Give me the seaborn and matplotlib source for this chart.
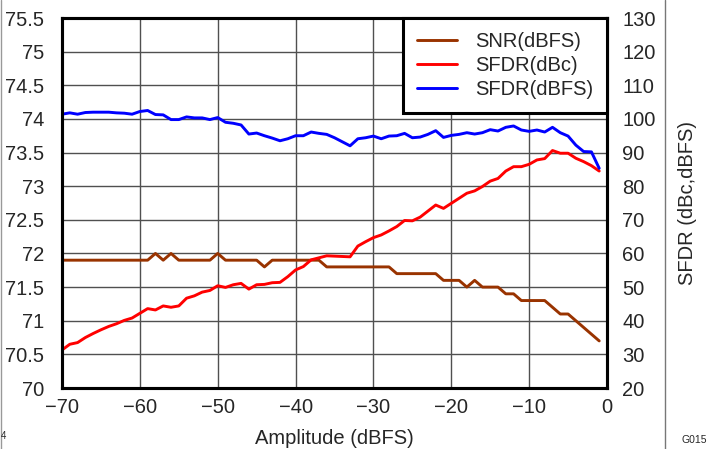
import numpy as np
import pandas as pd
import seaborn as sns
import matplotlib
matplotlib.use("Agg")
import matplotlib.pyplot as plt

# Amplitude sweep, -70 to -1 dBFS
amplitude = list(range(-70, 0))

snr_dbfs = ([71.9] * 12 + [72.0, 71.9, 72.0] + [71.9] * 5 + [72.0] + [71.9] * 5
            + [71.8] + [71.9] * 7 + [71.8] * 9 + [71.7] * 6 + [71.6] * 3
            + [71.5, 71.6, 71.5, 71.5, 71.5, 71.4, 71.4, 71.3, 71.3, 71.3, 71.3,
               71.2, 71.1, 71.1, 71.0, 70.9, 70.8, 70.7])

sfdr_dbc = [31.3, 33.0, 33.5, 35.0, 36.2, 37.3, 38.3, 39.1, 40.1, 40.8,
            42.2, 43.6, 43.2, 44.4, 44.0, 44.4, 46.7, 47.4, 48.5, 49.0,
            50.4, 49.9, 50.7, 51.1, 49.4, 50.7, 50.8, 51.3, 51.4, 53.1,
            55.1, 56.1, 58.1, 58.7, 59.3, 59.2, 59.1, 59.0, 62.2, 63.5,
            64.7, 65.5, 66.7, 68.0, 69.8, 69.7, 70.8, 72.6, 74.4, 73.4,
            74.9, 76.4, 77.9, 78.6, 79.9, 81.5, 82.3, 84.5, 85.8, 85.8,
            86.5, 87.8, 88.2, 90.6, 89.8, 89.8, 88.3, 87.3, 86.1, 84.5]

sfdr_dbfs = [101.4, 101.8, 101.4, 101.9, 102.0, 102.0, 102.0, 101.8, 101.7, 101.4,
             102.2, 102.5, 101.3, 101.2, 99.8, 99.8, 100.6, 100.3, 100.3, 99.8,
             100.4, 99.0, 98.7, 98.2, 95.5, 95.8, 95.0, 94.3, 93.5, 94.1,
             95.0, 95.0, 96.1, 95.7, 95.4, 94.4, 93.2, 92.0, 94.1, 94.4,
             94.9, 94.1, 94.9, 95.0, 95.7, 94.4, 94.6, 95.4, 96.5, 94.5,
             95.1, 95.4, 95.9, 95.5, 95.9, 96.8, 96.4, 97.5, 97.9, 96.7,
             96.3, 96.7, 96.1, 97.5, 95.9, 94.9, 92.2, 90.3, 90.2, 85.3]

df = pd.DataFrame({"Amplitude": amplitude, "SNR": snr_dbfs,
                   "SFDR_dBc": sfdr_dbc, "SFDR_dBFS": sfdr_dbfs})

sns.set_style("white")
plt.rcParams["font.family"] = ["Liberation Sans", "DejaVu Sans"]

fig = plt.figure(figsize=(7.13, 4.49), dpi=100)
ax = fig.add_axes([62 / 713, 1 - 388 / 449, 545 / 713, 370 / 449])
ax2 = ax.twinx()

brown = "#993300"
red = "#FF0000"
blue = "#0000FF"
lw = 2.1
fs = 14.5

sns.lineplot(data=df, x="Amplitude", y="SNR", ax=ax, color=brown, linewidth=lw)
sns.lineplot(data=df, x="Amplitude", y="SFDR_dBc", ax=ax2, color=red, linewidth=lw)
sns.lineplot(data=df, x="Amplitude", y="SFDR_dBFS", ax=ax2, color=blue, linewidth=lw)

ax.set_xlim(-70, 0)
ax.set_ylim(70, 75.5)
ax2.set_ylim(20, 130)
ax.set_xticks(range(-70, 1, 10))
ax.set_xticklabels(["\u221270", "\u221260", "\u221250", "\u221240",
                    "\u221230", "\u221220", "\u221210", "0"])
ax.set_yticks(np.arange(70, 75.51, 0.5))
ax.set_yticklabels(["70", "70.5", "71", "71.5", "72", "72.5", "73", "73.5",
                    "74", "74.5", "75", "75.5"])
ax2.set_yticks(range(20, 131, 10))

ax.grid(True, color="#505050", linewidth=1.0)
ax.set_axisbelow(True)
ax2.grid(False)
for a in (ax, ax2):
    for s in a.spines.values():
        s.set_linewidth(2.2)
        s.set_color("black")
    a.tick_params(length=0, labelsize=fs)
ax.tick_params(axis="y", pad=13)
ax.tick_params(axis="x", pad=7)
ax2.tick_params(axis="y", pad=11)

ax.set_xlabel("Amplitude (dBFS)", fontsize=fs, labelpad=9)
ax.set_ylabel("")
ax2.set_ylabel("SFDR (dBc,dBFS)", fontsize=fs, labelpad=16)

handles = [plt.Line2D([], [], color=brown, linewidth=lw),
           plt.Line2D([], [], color=red, linewidth=lw),
           plt.Line2D([], [], color=blue, linewidth=lw)]
leg = ax2.legend(handles, ["SNR(dBFS)", "SFDR(dBc)", "SFDR(dBFS)"],
                 loc="upper right", bbox_to_anchor=(1.0, 1.0), fontsize=fs,
                 frameon=True, fancybox=False, framealpha=1, edgecolor="black",
                 handlelength=1.95, handletextpad=0.9, borderpad=0.7,
                 labelspacing=0.25, borderaxespad=0)
leg.get_frame().set_linewidth(2.2)

# cropped datasheet page artifacts
fig.add_artist(plt.Line2D([665 / 713, 665 / 713], [0, 1], color="#777777", linewidth=1.0))
fig.add_artist(plt.Line2D([0.5 / 713, 0.5 / 713], [0, 1], color="#999999", linewidth=1.0))
fig.text(1 / 713, 1 - 436 / 449, "4", fontsize=7, va="center")
fig.text(681 / 713, 1 - 440 / 449, "G015", fontsize=7.5, va="center")

fig.savefig("out.png", dpi=100)
